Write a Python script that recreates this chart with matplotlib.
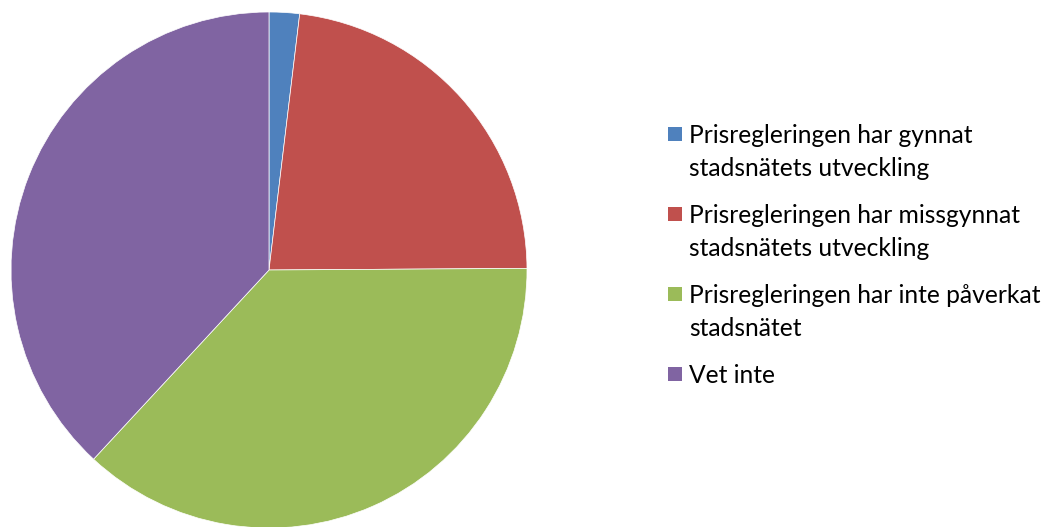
import matplotlib.pyplot as plt
from matplotlib.patches import Rectangle

labels = [
    "Prisregleringen har gynnat\nstadsnätets utveckling",
    "Prisregleringen har missgynnat\nstadsnätets utveckling",
    "Prisregleringen har inte påverkat\nstadsnätet",
    "Vet inte",
]
shares = [1.9, 23.0, 37.0, 38.1]
colours = ["#4F81BD", "#C0504D", "#9BBB59", "#8064A2"]

W, H = 1051, 527
plt.rcParams["font.family"] = ["Lato", "DejaVu Sans"]

fig = plt.figure(figsize=(W / 100, H / 100), dpi=100)
ax = fig.add_axes([11 / W, (527 - 270 - 258) / H, 516 / W, 516 / H])
ax.pie(shares, colors=colours, startangle=90, counterclock=False,
       wedgeprops=dict(linewidth=0.5, edgecolor="white"))
ax.set_aspect("equal")
ax.set_xlim(-1, 1)
ax.set_ylim(-1, 1)
ax.axis("off")

# legend drawn by hand so the swatch sits at the first text line
for i, (lab, col) in enumerate(zip(labels, colours)):
    y0 = 127 + 80 * i
    fig.patches.append(Rectangle((668 / W, 1 - (y0 + 14) / H), 14 / W, 14 / H,
                                 transform=fig.transFigure, facecolor=col,
                                 edgecolor="none"))
    for j, line in enumerate(lab.split("\n")):
        fig.text(689 / W, 1 - (143 + 80 * i + 33 * j) / H, line,
                 fontsize=17.7, va="baseline", ha="left", color="black")

fig.savefig("out.png", dpi=100)
